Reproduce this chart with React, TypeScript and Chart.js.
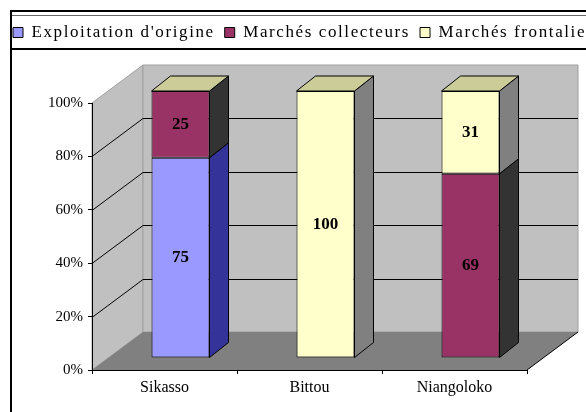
import React, { useEffect, useRef } from "react";
import { Chart, registerables } from "chart.js";

Chart.register(...registerables);

const categories = ["Sikasso", "Bittou", "Niangoloko"];
const seriesNames = ["Exploitation d'origine", "Marchés collecteurs", "Marchés frontaliers"];
const exploitationOrigine = [75, 0, 0];
const marchesCollecteurs = [25, 0, 69];
const marchesFrontaliers = [0, 100, 31];
const yTicks = [0, 20, 40, 60, 80, 100];

const seriesData = [exploitationOrigine, marchesCollecteurs, marchesFrontaliers];
const FRONT = ["#9999ff", "#993366", "#ffffcc"];
const SIDE = ["#333399", "#333333", "#808080"];
const TOP = "#cccc99";
const WALL_D = { dx: 51, dy: -38 };
const BAR_OFF = { dx: 16, dy: -12 };
const BAR_D = { dx: 19, dy: -15 };
const SERIF = "'Liberation Serif', 'Times New Roman', serif";
const LEGEND_SPACING = "1.6px";

const CW = 640;
const CH = 412;
const AREA = { left: 92, right: 527, top: 103, bottom: 370 };
const PAD = { left: 3, top: 14 };

function poly(ctx: CanvasRenderingContext2D, pts: number[][], fill: string | null, stroke: string | null) {
  ctx.beginPath();
  ctx.moveTo(pts[0][0], pts[0][1]);
  for (let i = 1; i < pts.length; i++) ctx.lineTo(pts[i][0], pts[i][1]);
  ctx.closePath();
  if (fill) {
    ctx.fillStyle = fill;
    ctx.fill();
  }
  if (stroke) {
    ctx.strokeStyle = stroke;
    ctx.lineWidth = 1;
    ctx.stroke();
  }
}

const legendSpacingPlugin = {
  id: "legendSpacing",
  beforeLayout(chart: any) {
    const lg: any = chart.legend;
    if (!lg || lg.__wrapped) return;
    lg.__wrapped = true;
    const fit = lg.fit.bind(lg);
    const draw = lg.draw.bind(lg);
    lg.fit = function () {
      const c: any = chart.ctx;
      c.save();
      c.letterSpacing = LEGEND_SPACING;
      fit();
      c.restore();
      this.height = AREA.top - PAD.top;
    };
    lg.draw = function (...args: any[]) {
      const c: any = chart.ctx;
      c.save();
      c.letterSpacing = LEGEND_SPACING;
      draw(...args);
      c.restore();
    };
  },
};

const scenePlugin = {
  id: "scene",
  beforeDraw(chart: any) {
    const { ctx, chartArea: a } = chart;
    const ys = chart.scales.y;
    const W = chart.width;
    const H = chart.height;
    ctx.save();
    ctx.fillStyle = "#ffffff";
    ctx.fillRect(0, 0, W, H);
    // outer frame
    ctx.fillStyle = "#000";
    ctx.fillRect(10, 10, W, 2);
    ctx.fillStyle = "#666";
    ctx.fillRect(12, 15, W, 1);
    ctx.fillStyle = "#000";
    ctx.fillRect(10, 48, W, 2);
    ctx.fillRect(10, 10, 2, H);

    const L = a.left, R = a.right, T = a.top, B = a.bottom;
    const { dx, dy } = WALL_D;
    // left wall
    poly(ctx, [[L, T], [L + dx, T + dy], [L + dx, B + dy], [L, B]], "#c0c0c0", "#a0a0a0");
    // back wall
    poly(ctx, [[L + dx, T + dy], [R + dx, T + dy], [R + dx, B + dy], [L + dx, B + dy]], "#c0c0c0", "#a0a0a0");
    // floor
    poly(ctx, [[L, B], [R, B], [R + dx, B + dy], [L + dx, B + dy]], "#808080", null);
    ctx.strokeStyle = "#000";
    ctx.lineWidth = 1;
    ctx.beginPath();
    ctx.moveTo(R, B);
    ctx.lineTo(R + dx, B + dy);
    ctx.stroke();
    // gridlines on walls
    ctx.strokeStyle = "#000";
    ctx.lineWidth = 1;
    yTicks.forEach((v) => {
      if (v === yTicks[0] || v === yTicks[yTicks.length - 1]) return;
      const py = Math.round(ys.getPixelForValue(v)) + 0.5;
      ctx.beginPath();
      ctx.moveTo(L, py);
      ctx.lineTo(L + dx, py + dy);
      ctx.lineTo(R + dx, py + dy);
      ctx.stroke();
    });
    ctx.restore();
  },
  beforeDatasetsDraw(chart: any) {
    chart.ctx.save();
    chart.ctx.translate(BAR_OFF.dx, BAR_OFF.dy);
  },
  afterDatasetsDraw(chart: any) {
    const ctx = chart.ctx;
    const { dx, dy } = BAR_D;
    const n = categories.length;
    // side faces
    seriesData.forEach((data, i) => {
      const meta = chart.getDatasetMeta(i);
      meta.data.forEach((bar: any, j: number) => {
        if (!data[j]) return;
        const p = bar.getProps(["x", "y", "base", "width"], true);
        const r = p.x + p.width / 2;
        poly(ctx, [[r, p.y], [r + dx, p.y + dy], [r + dx, p.base + dy], [r, p.base]], SIDE[i], "#000");
      });
    });
    // top faces
    for (let j = 0; j < n; j++) {
      let top = -1;
      seriesData.forEach((data, i) => {
        if (data[j]) top = i;
      });
      if (top < 0) continue;
      const bar: any = chart.getDatasetMeta(top).data[j];
      const p = bar.getProps(["x", "y", "width"], true);
      const l = p.x - p.width / 2;
      const r = p.x + p.width / 2;
      poly(ctx, [[l, p.y], [r, p.y], [r + dx, p.y + dy], [l + dx, p.y + dy]], TOP, "#000");
    }
    // value labels
    ctx.fillStyle = "#000";
    ctx.textAlign = "center";
    ctx.textBaseline = "middle";
    ctx.font = `bold 17px ${SERIF}`;
    seriesData.forEach((data, i) => {
      const meta = chart.getDatasetMeta(i);
      meta.data.forEach((bar: any, j: number) => {
        if (!data[j]) return;
        const p = bar.getProps(["x", "y", "base"], true);
        ctx.fillText(String(data[j]), p.x, (p.y + p.base) / 2);
      });
    });
    ctx.restore();
  },
};

export default function App() {
  const ref = useRef<HTMLCanvasElement | null>(null);
  useEffect(() => {
    if (!ref.current) return;
    Chart.defaults.font.family = SERIF;
    Chart.defaults.color = "#000";
    const baseGen = (Chart.defaults as any).plugins.legend.labels.generateLabels;
    const chart = new Chart(ref.current, {
      type: "bar",
      data: {
        labels: categories,
        datasets: seriesNames.map((name, i) => ({
          label: name,
          data: seriesData[i],
          backgroundColor: FRONT[i],
          borderColor: "#000",
          borderWidth: (c: any) => (c.type === "data" && !c.raw ? 0 : 1),
          borderSkipped: false,
          barPercentage: 0.4,
          categoryPercentage: 1,
          clip: false as any,
        })),
      },
      options: {
        responsive: false,
        animation: false,
        devicePixelRatio: 1,
        events: [],
        layout: { padding: { left: PAD.left, top: PAD.top, right: 0, bottom: 0 } },
        plugins: {
          legend: {
            display: true,
            position: "top",
            align: "start",
            labels: {
              boxWidth: 10,
              boxHeight: 10,
              padding: 10,
              color: "#000",
              font: { size: 17, family: SERIF },
              generateLabels: (c: any) =>
                baseGen(c).map((l: any, i: number) => ({
                  ...l,
                  fillStyle: FRONT[i],
                  strokeStyle: "#000",
                  lineWidth: 1,
                })),
            },
          },
          tooltip: { enabled: false },
          title: { display: false },
        },
        scales: {
          x: {
            stacked: true,
            grid: { display: true, drawOnChartArea: false, drawTicks: true, tickLength: 4, color: "#000", offset: true },
            border: { display: true, color: "#000", width: 1 },
            ticks: { color: "#000", padding: 4, font: { size: 16, family: SERIF } },
            afterFit: (s: any) => {
              s.height = CH - AREA.bottom;
            },
          },
          y: {
            stacked: true,
            min: 0,
            max: 100,
            afterBuildTicks: (s: any) => {
              s.ticks = yTicks.map((v) => ({ value: v }));
            },
            grid: { display: true, drawOnChartArea: false, drawTicks: true, tickLength: 4, color: "#000" },
            border: { display: true, color: "#000", width: 1 },
            ticks: { color: "#000", padding: 5, font: { size: 15, family: SERIF }, callback: (v: any) => `${v}%` },
            afterFit: (s: any) => {
              s.width = AREA.left - PAD.left;
            },
          },
          yR: {
            type: "linear",
            position: "right",
            display: true,
            grid: { display: false, drawTicks: false },
            border: { display: false },
            ticks: { display: false },
            afterFit: (s: any) => {
              s.width = CW - AREA.right;
            },
          },
        },
      },
      plugins: [legendSpacingPlugin, scenePlugin],
    } as any);
    return () => chart.destroy();
  }, []);
  return (
    <div style={{ position: "absolute", left: 0, top: 0, width: 586, height: 412, overflow: "hidden", background: "#fff" }}>
      <canvas ref={ref} width={CW} height={CH} style={{ width: CW, height: CH, display: "block" }} />
    </div>
  );
}
